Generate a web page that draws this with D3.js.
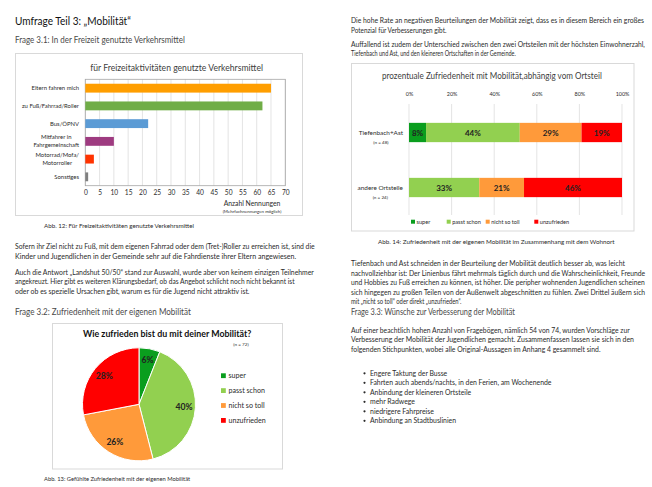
<!DOCTYPE html>
<html>
<head>
<meta charset="utf-8">
<script src="https://cdn.jsdelivr.net/npm/d3@7"></script>
<style>
  html, body { margin: 0; padding: 0; background: #fff; }
  svg { display: block; font-family: Lato, "Open Sans", sans-serif; }
</style>
</head>
<body>
<svg id="page" width="652" height="487"></svg>
<script>
// --- chart data ---
var freizeitCats = ["Eltern fahren mich", "zu Fuß/Fahrrad/Roller", "Bus/ÖPNV", "Mitfahrer in|Fahrgemeinschaft", "Motorrad/Mofa/|Motorroller", "Sonstiges"];
var freizeitValues = [65, 62, 22, 10, 3, 1];
var freizeitColors = ["#ff9e00", "#70ad47", "#5b9bd5", "#9e3b80", "#ff3300", "#7f7f7f"];
var freizeitTicks = [0, 5, 10, 15, 20, 25, 30, 35, 40, 45, 50, 55, 60, 65, 70];

var zufriedenCats = ["super", "passt schon", "nicht so toll", "unzufrieden"];
var zufriedenValues = [6, 40, 26, 28];
var zufriedenColors = ["#0a9e1e", "#92d050", "#ff9a3a", "#ff0000"];

var ortCats = ["Tiefenbach+Ast", "andere Ortsteile"];
var ortN = [48, 24];
var ortSuper = [8, 0];
var ortPasst = [44, 33];
var ortNicht = [29, 21];
var ortUnzufrieden = [19, 46];
var ortTicks = [0, 20, 40, 60, 80, 100];

var svg = d3.select("#page");
var ink = "#2b2b2b";

function txt(g, x, y, s, size, opts) {
  opts = opts || {};
  var t = g.append("text")
    .attr("x", x)
    .attr("y", y + size * 0.35)
    .attr("font-size", size)
    .attr("fill", opts.fill || ink)
    .attr("text-anchor", opts.anchor || "start")
    .text(s);
  if (opts.weight) t.attr("font-weight", opts.weight);
  if (opts.len) {
    // squeeze/stretch horizontally so the line ends where it does on the page
    var w = t.node().getComputedTextLength();
    var sx = opts.len / w;
    var ax = opts.anchor === "middle" ? x : x;
    t.attr("x", 0).attr("y", 0)
      .attr("transform", "translate(" + ax + "," + (y + size * 0.35) + ") scale(" + sx + ",1)");
  }
  return t;
}

// --- page text ---
var headColor = "#4a4a4a";
txt(svg, 15, 20.5, "Umfrage Teil 3: „Mobilität“", 11.5, { len: 116, fill: "#111" });
txt(svg, 15, 40, "Frage 3.1: In der Freizeit genutzte Verkehrsmittel", 8.6, { len: 170, fill: headColor });
txt(svg, 15, 311.5, "Frage 3.2: Zufriedenheit mit der eigenen Mobilität", 8.6, { len: 176, fill: headColor });
txt(svg, 351, 311.5, "Frage 3.3: Wünsche zur Verbesserung der Mobilität", 8.6, { len: 164, fill: headColor });

var bodyLines = [
  [15, 246.7, 315, "Sofern ihr Ziel nicht zu Fuß, mit dem eigenen Fahrrad oder dem (Tret-)Roller zu erreichen ist, sind die"],
  [15, 256.7, 296, "Kinder und Jugendlichen in der Gemeinde sehr auf die Fahrdienste ihrer Eltern angewiesen."],
  [15, 272, 314, "Auch die Antwort „Landshut 50/50“ stand zur Auswahl, wurde aber von keinem einzigen Teilnehmer"],
  [15, 281.5, 294.5, "angekreuzt. Hier gibt es weiteren Klärungsbedarf, ob das Angebot schlicht noch nicht bekannt ist"],
  [15, 291.2, 249.5, "oder ob es spezielle Ursachen gibt, warum es für die Jugend nicht attraktiv ist."],
  [351, 20, 644, "Die hohe Rate an negativen Beurteilungen der Mobilität zeigt, dass es in diesem Bereich ein großes"],
  [351, 30, 446.5, "Potenzial für Verbesserungen gibt."],
  [351, 44, 645, "Auffallend ist zudem der Unterschied zwischen den zwei Ortsteilen mit der höchsten Einwohnerzahl,"],
  [351, 53.5, 516, "Tiefenbach und Ast, und den kleineren Ortschaften in der Gemeinde."],
  [351, 263.3, 625, "Tiefenbach und Ast schneiden in der Beurteilung der Mobilität deutlich besser ab, was leicht"],
  [351, 273, 645, "nachvollziehbar ist: Der Linienbus fährt mehrmals täglich durch und die Wahrscheinlichkeit, Freunde"],
  [351, 282.7, 645, "und Hobbies zu Fuß erreichen zu können, ist höher. Die peripher wohnenden Jugendlichen scheinen"],
  [351, 292.3, 645, "sich hingegen zu großen Teilen von der Außenwelt abgeschnitten zu fühlen. Zwei Drittel äußern sich"],
  [351, 301.8, 461.5, "mit „nicht so toll“ oder direkt „unzufrieden“."],
  [351, 330, 630, "Auf einer beachtlich hohen Anzahl von Fragebögen, nämlich 54 von 74, wurden Vorschläge zur"],
  [351, 339.8, 634, "Verbesserung der Mobilität der Jugendlichen gemacht. Zusammenfassen lassen sie sich in den"],
  [351, 349.5, 600.5, "folgenden Stichpunkten, wobei alle Original-Aussagen im Anhang 4 gesammelt sind."]
];
var bullets = [
  ["Engere Taktung der Busse", 447.3],
  ["Fahrten auch abends/nachts, in den Ferien, am Wochenende", 551.7],
  ["Anbindung der kleineren Ortsteile", 471],
  ["mehr Radwege", 415],
  ["niedrigere Fahrpreise", 434],
  ["Anbindung an Stadtbuslinien", 456]
];

var bodySize = 7.4;
bodyLines.forEach(function (l) {
  txt(svg, l[0], l[1], l[3], bodySize, { len: l[2] - l[0] });
});
bullets.forEach(function (b, i) {
  var y = 373.3 + i * 9.5;
  svg.append("circle").attr("cx", 364.5).attr("cy", y).attr("r", 1.1).attr("fill", ink);
  txt(svg, 370, y, b[0], bodySize, { len: b[1] - 370 });
});

// captions
txt(svg, 44, 225.7, "Abb. 12: Für Freizeitaktivitäten genutzte Verkehrsmittel", 5.6, { len: 150 });
txt(svg, 44, 479, "Abb. 13: Gefühlte Zufriedenheit mit der eigenen Mobilität", 5.6, { len: 146 });
txt(svg, 378, 241.7, "Abb. 14: Zufriedenheit mit der eigenen Mobilität im Zusammenhang mit dem Wohnort", 5.6, { len: 237 });

// ================= chart 1: horizontal bars =================
var c1 = svg.append("g");
c1.append("rect").attr("x", 15.5).attr("y", 53.5).attr("width", 287).attr("height", 162)
  .attr("fill", "#fff").attr("stroke", "#d9d9d9").attr("stroke-width", 1);
txt(c1, 90.2, 68, "für Freizeitaktivitäten genutzte Verkehrsmittel", 9.6, { len: 173, fill: "#404040" });

var x1 = d3.scaleLinear().domain([0, 70]).range([85.3, 285.3]);
var y1 = d3.scaleBand().domain(freizeitCats).range([79.3, 185.7]).paddingInner(0.5).paddingOuter(0.25);

c1.append("g").selectAll("line").data(freizeitTicks).enter().append("line")
  .attr("x1", function (d) { return x1(d); }).attr("x2", function (d) { return x1(d); })
  .attr("y1", 79.3).attr("y2", 185.7)
  .attr("stroke", "#d9d9d9").attr("stroke-width", 0.7);
c1.append("rect").attr("x", x1(0)).attr("y", 79.3).attr("width", x1(70) - x1(0)).attr("height", 106.4)
  .attr("fill", "none").attr("stroke", "#a6a6a6").attr("stroke-width", 0.8);

c1.append("g").selectAll("rect").data(freizeitValues).enter().append("rect")
  .attr("x", x1(0))
  .attr("y", function (d, i) { return y1(freizeitCats[i]); })
  .attr("width", function (d) { return x1(d) - x1(0); })
  .attr("height", y1.bandwidth())
  .attr("fill", function (d, i) { return freizeitColors[i]; });

var xAxis1 = d3.axisBottom(x1).tickValues(freizeitTicks).tickSize(0).tickPadding(5);
var ax1 = c1.append("g").attr("transform", "translate(0,185.7)").call(xAxis1);
ax1.select(".domain").remove();
ax1.selectAll("text").attr("font-size", 6.6).attr("fill", ink).attr("font-family", "Lato");

freizeitCats.forEach(function (c, i) {
  var parts = c.split("|");
  var cy = y1(c) + y1.bandwidth() / 2;
  if (parts.length === 1) {
    txt(c1, 79, cy, parts[0], 5.9, { anchor: "end" });
  } else {
    var g = c1.append("g");
    var lines = parts.map(function (p, j) {
      return txt(g, 0, cy + (j - 0.5) * 8, p, 5.9, { anchor: "middle" });
    });
    var w = d3.max(lines, function (t) { return t.node().getComputedTextLength(); });
    lines.forEach(function (t) { t.attr("x", 79 - w / 2); });
  }
});

txt(c1, 252, 204, "Anzahl Nennungen", 6.8, { anchor: "middle" });
txt(c1, 252, 211.6, "(Mehrfachnennungen möglich)", 4.4, { anchor: "middle" });

// ================= chart 2: pie =================
var c2 = svg.append("g");
c2.append("rect").attr("x", 52.5).attr("y", 323.5).attr("width", 230).attr("height", 145.5)
  .attr("fill", "#fff").attr("stroke", "#d9d9d9").attr("stroke-width", 1);
txt(c2, 83, 334, "Wie zufrieden bist du mit deiner Mobilität?", 9.4, { weight: "bold", len: 168, fill: "#111" });
txt(c2, 241, 344.3, "(n = 72)", 4.6, { anchor: "middle" });

var pie = d3.pie().sort(null).value(function (d) { return d; });
var arcs = pie(zufriedenValues);
var arc = d3.arc().innerRadius(0).outerRadius(56.5);
var labelArc = d3.arc().innerRadius(45).outerRadius(45);
var pg = c2.append("g").attr("transform", "translate(139,404.3)");
pg.selectAll("path").data(arcs).enter().append("path")
  .attr("d", arc)
  .attr("fill", function (d, i) { return zufriedenColors[i]; })
  .attr("stroke", "#fff").attr("stroke-width", 1);
pg.selectAll("text").data(arcs).enter().append("text")
  .attr("transform", function (d) { var c = labelArc.centroid(d); return "translate(" + c[0] + "," + (c[1] + 3) + ")"; })
  .attr("text-anchor", "middle")
  .attr("font-size", 8.6).attr("font-weight", "bold").attr("fill", "#222")
  .text(function (d) { return d.data + "%"; });

zufriedenCats.forEach(function (c, i) {
  var y = 375.7 + i * 14.9;
  c2.append("rect").attr("x", 221).attr("y", y - 2.4).attr("width", 4.8).attr("height", 4.8).attr("fill", zufriedenColors[i]);
  txt(c2, 228.5, y, c, 7.1);
});

// ================= chart 3: stacked 100% bars =================
var c3 = svg.append("g");
c3.append("rect").attr("x", 351.5).attr("y", 63.5).attr("width", 282.5).attr("height", 167.5)
  .attr("fill", "#fff").attr("stroke", "#d9d9d9").attr("stroke-width", 1);
txt(c3, 382, 76, "prozentuale Zufriedenheit mit Mobilität,abhängig vom Ortsteil", 8.8, { len: 220, fill: "#404040" });

var x3 = d3.scaleLinear().domain([0, 100]).range([409, 622]);
var y3 = d3.scalePoint().domain(ortCats).range([105, 215]).padding(0.5);
var barH = 19.3;

c3.append("g").selectAll("line").data(ortTicks).enter().append("line")
  .attr("x1", function (d) { return x3(d); }).attr("x2", function (d) { return x3(d); })
  .attr("y1", 104).attr("y2", 215)
  .attr("stroke", "#d9d9d9").attr("stroke-width", 0.7);

var xAxis3 = d3.axisTop(x3).tickValues(ortTicks).tickSize(0).tickPadding(4)
  .tickFormat(function (d) { return d + "%"; });
var ax3 = c3.append("g").attr("transform", "translate(0,99.5)").call(xAxis3);
ax3.select(".domain").remove();
ax3.selectAll("text").attr("font-size", 5.4).attr("fill", ink).attr("font-family", "Lato");

var ortRows = ortCats.map(function (c, i) {
  return { cat: c, super: ortSuper[i], passt: ortPasst[i], nicht: ortNicht[i], unzufrieden: ortUnzufrieden[i] };
});
var keys = ["super", "passt", "nicht", "unzufrieden"];
var stack = d3.stack().keys(keys)(ortRows);

stack.forEach(function (layer, k) {
  var g = c3.append("g");
  var segs = layer.filter(function (d) { return d[1] - d[0] > 0; });
  g.selectAll("rect").data(segs).enter().append("rect")
    .attr("x", function (d) { return x3(d[0]); })
    .attr("y", function (d) { return y3(d.data.cat) - barH / 2; })
    .attr("width", function (d) { return x3(d[1]) - x3(d[0]); })
    .attr("height", barH)
    .attr("fill", zufriedenColors[k]);
  g.selectAll("text").data(segs).enter().append("text")
    .attr("x", function (d) { return (x3(d[0]) + x3(d[1])) / 2; })
    .attr("y", function (d) { return y3(d.data.cat) + 3; })
    .attr("text-anchor", "middle")
    .attr("font-size", 8).attr("font-weight", "bold").attr("fill", "#222")
    .text(function (d) { return (d[1] - d[0]) + "%"; });
});

ortCats.forEach(function (c, i) {
  var cy = y3(c);
  var t = txt(c3, 403, cy + 0.5, c, 6.4, { anchor: "end" });
  var w = t.node().getComputedTextLength();
  txt(c3, 403 - w / 2, cy + 9.5, "(n = " + ortN[i] + ")", 4.6, { anchor: "middle" });
});

var legX = [411, 446.7, 485.7, 534.3];
zufriedenCats.forEach(function (c, i) {
  c3.append("rect").attr("x", legX[i]).attr("y", 219.7).attr("width", 4).attr("height", 4).attr("fill", zufriedenColors[i]);
  txt(c3, legX[i] + 5.5, 221.7, c, 5.6);
});
</script>
</body>
</html>
